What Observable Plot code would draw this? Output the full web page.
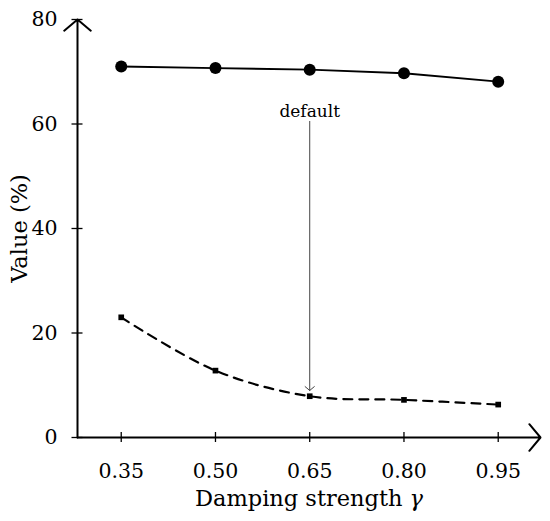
<!DOCTYPE html>
<html><head><meta charset="utf-8">
<script src="https://cdn.jsdelivr.net/npm/d3@7"></script>
<script src="https://cdn.jsdelivr.net/npm/@observablehq/plot@0.6"></script>
<style>body{margin:0;background:#fff} svg{font-family:"DejaVu Serif",serif}</style>
</head><body><div id="chart"></div>
<script>
const gammas = [0.35, 0.50, 0.65, 0.80, 0.95];
const xTickLabels = ["0.35", "0.50", "0.65", "0.80", "0.95"];
const solidValues = [71.0, 70.7, 70.4, 69.7, 68.1];
const dashedValues = [23.0, 12.8, 7.9, 7.2, 6.3];
const yTicks = [0, 20, 40, 60, 80];
const annotation = [{x: 0.65, y1: 60.5, y2: 9.0, label: "default", labelY: 62.3}];
const xDomain = [0.2804, 1.0173];
const yDomain = [0, 80];

const solid = gammas.map((g, i) => ({g, v: solidValues[i]}));
const dashed = gammas.map((g, i) => ({g, v: dashedValues[i]}));
const axes = [
  {x1: xDomain[0], y1: 0, x2: xDomain[1], y2: 0},
  {x1: xDomain[0], y1: 0, x2: xDomain[0], y2: yDomain[1]}
];
const FONT = '"DejaVu Serif", serif';

const plot = Plot.plot({
  width: 550, height: 521,
  marginLeft: 77, marginRight: 10, marginTop: 19, marginBottom: 84,
  x: {domain: xDomain, axis: null, label: null},
  y: {domain: yDomain, axis: null, label: null},
  style: {fontFamily: FONT, background: "white", color: "black"},
  marks: [
    Plot.axisY(yTicks, {tickSize: 11, dx: 5.5, tickFormat: () => "", label: null, strokeWidth: 1.3}),
    Plot.axisY(yTicks, {tickSize: 0, tickPadding: 20, label: null, fontSize: 20.5}),
    Plot.axisX(gammas, {tickSize: 10, dy: -5, tickFormat: () => "", label: null, strokeWidth: 1.3}),
    Plot.axisX(gammas, {tickSize: 0, tickPadding: 26, label: null, fontSize: 20.5,
      tickFormat: d => xTickLabels[gammas.indexOf(d)]}),
    Plot.arrow(axes, {x1: "x1", y1: "y1", x2: "x2", y2: "y2", stroke: "black", strokeWidth: 2, headAngle: 100, headLength: 13}),
    Plot.line(solid, {x: "g", y: "v", stroke: "black", strokeWidth: 1.9}),
    Plot.line(dashed, {x: "g", y: "v", stroke: "black", strokeWidth: 2.2, strokeDasharray: "9,7", curve: "catmull-rom"}),
    Plot.dot(solid, {x: "g", y: "v", r: 6, fill: "black"}),
    Plot.dot(dashed, {x: "g", y: "v", r: 3.2, symbol: "square", fill: "black"}),
    Plot.arrow(annotation, {x1: "x", y1: "y1", x2: "x", y2: "y2", stroke: "#444", strokeWidth: 1, headAngle: 100, headLength: 9}),
    Plot.text(annotation, {x: "x", y: "labelY", text: "label", fontSize: 17, fill: "black", lineAnchor: "middle"}),
    Plot.text(["Value (%)"], {frameAnchor: "left", textAnchor: "middle", lineAnchor: "middle", rotate: -90, dx: -58, fontSize: 22.5, fill: "black"}),
    Plot.text(["Damping strength γ"], {frameAnchor: "bottom", textAnchor: "middle", lineAnchor: "middle", dy: 61, fontSize: 22.5, fill: "black"})
  ]
});
document.getElementById("chart").appendChild(plot);
d3.select(plot).selectAll("text").each(function() {
  const t = this.textContent;
  if (t.endsWith("γ") && this.children.length === 0) {
    const el = d3.select(this);
    el.text(null);
    el.append("tspan").text(t.slice(0, -1));
    el.append("tspan").attr("font-style", "italic").text("γ");
  }
});
</script>
</body></html>
